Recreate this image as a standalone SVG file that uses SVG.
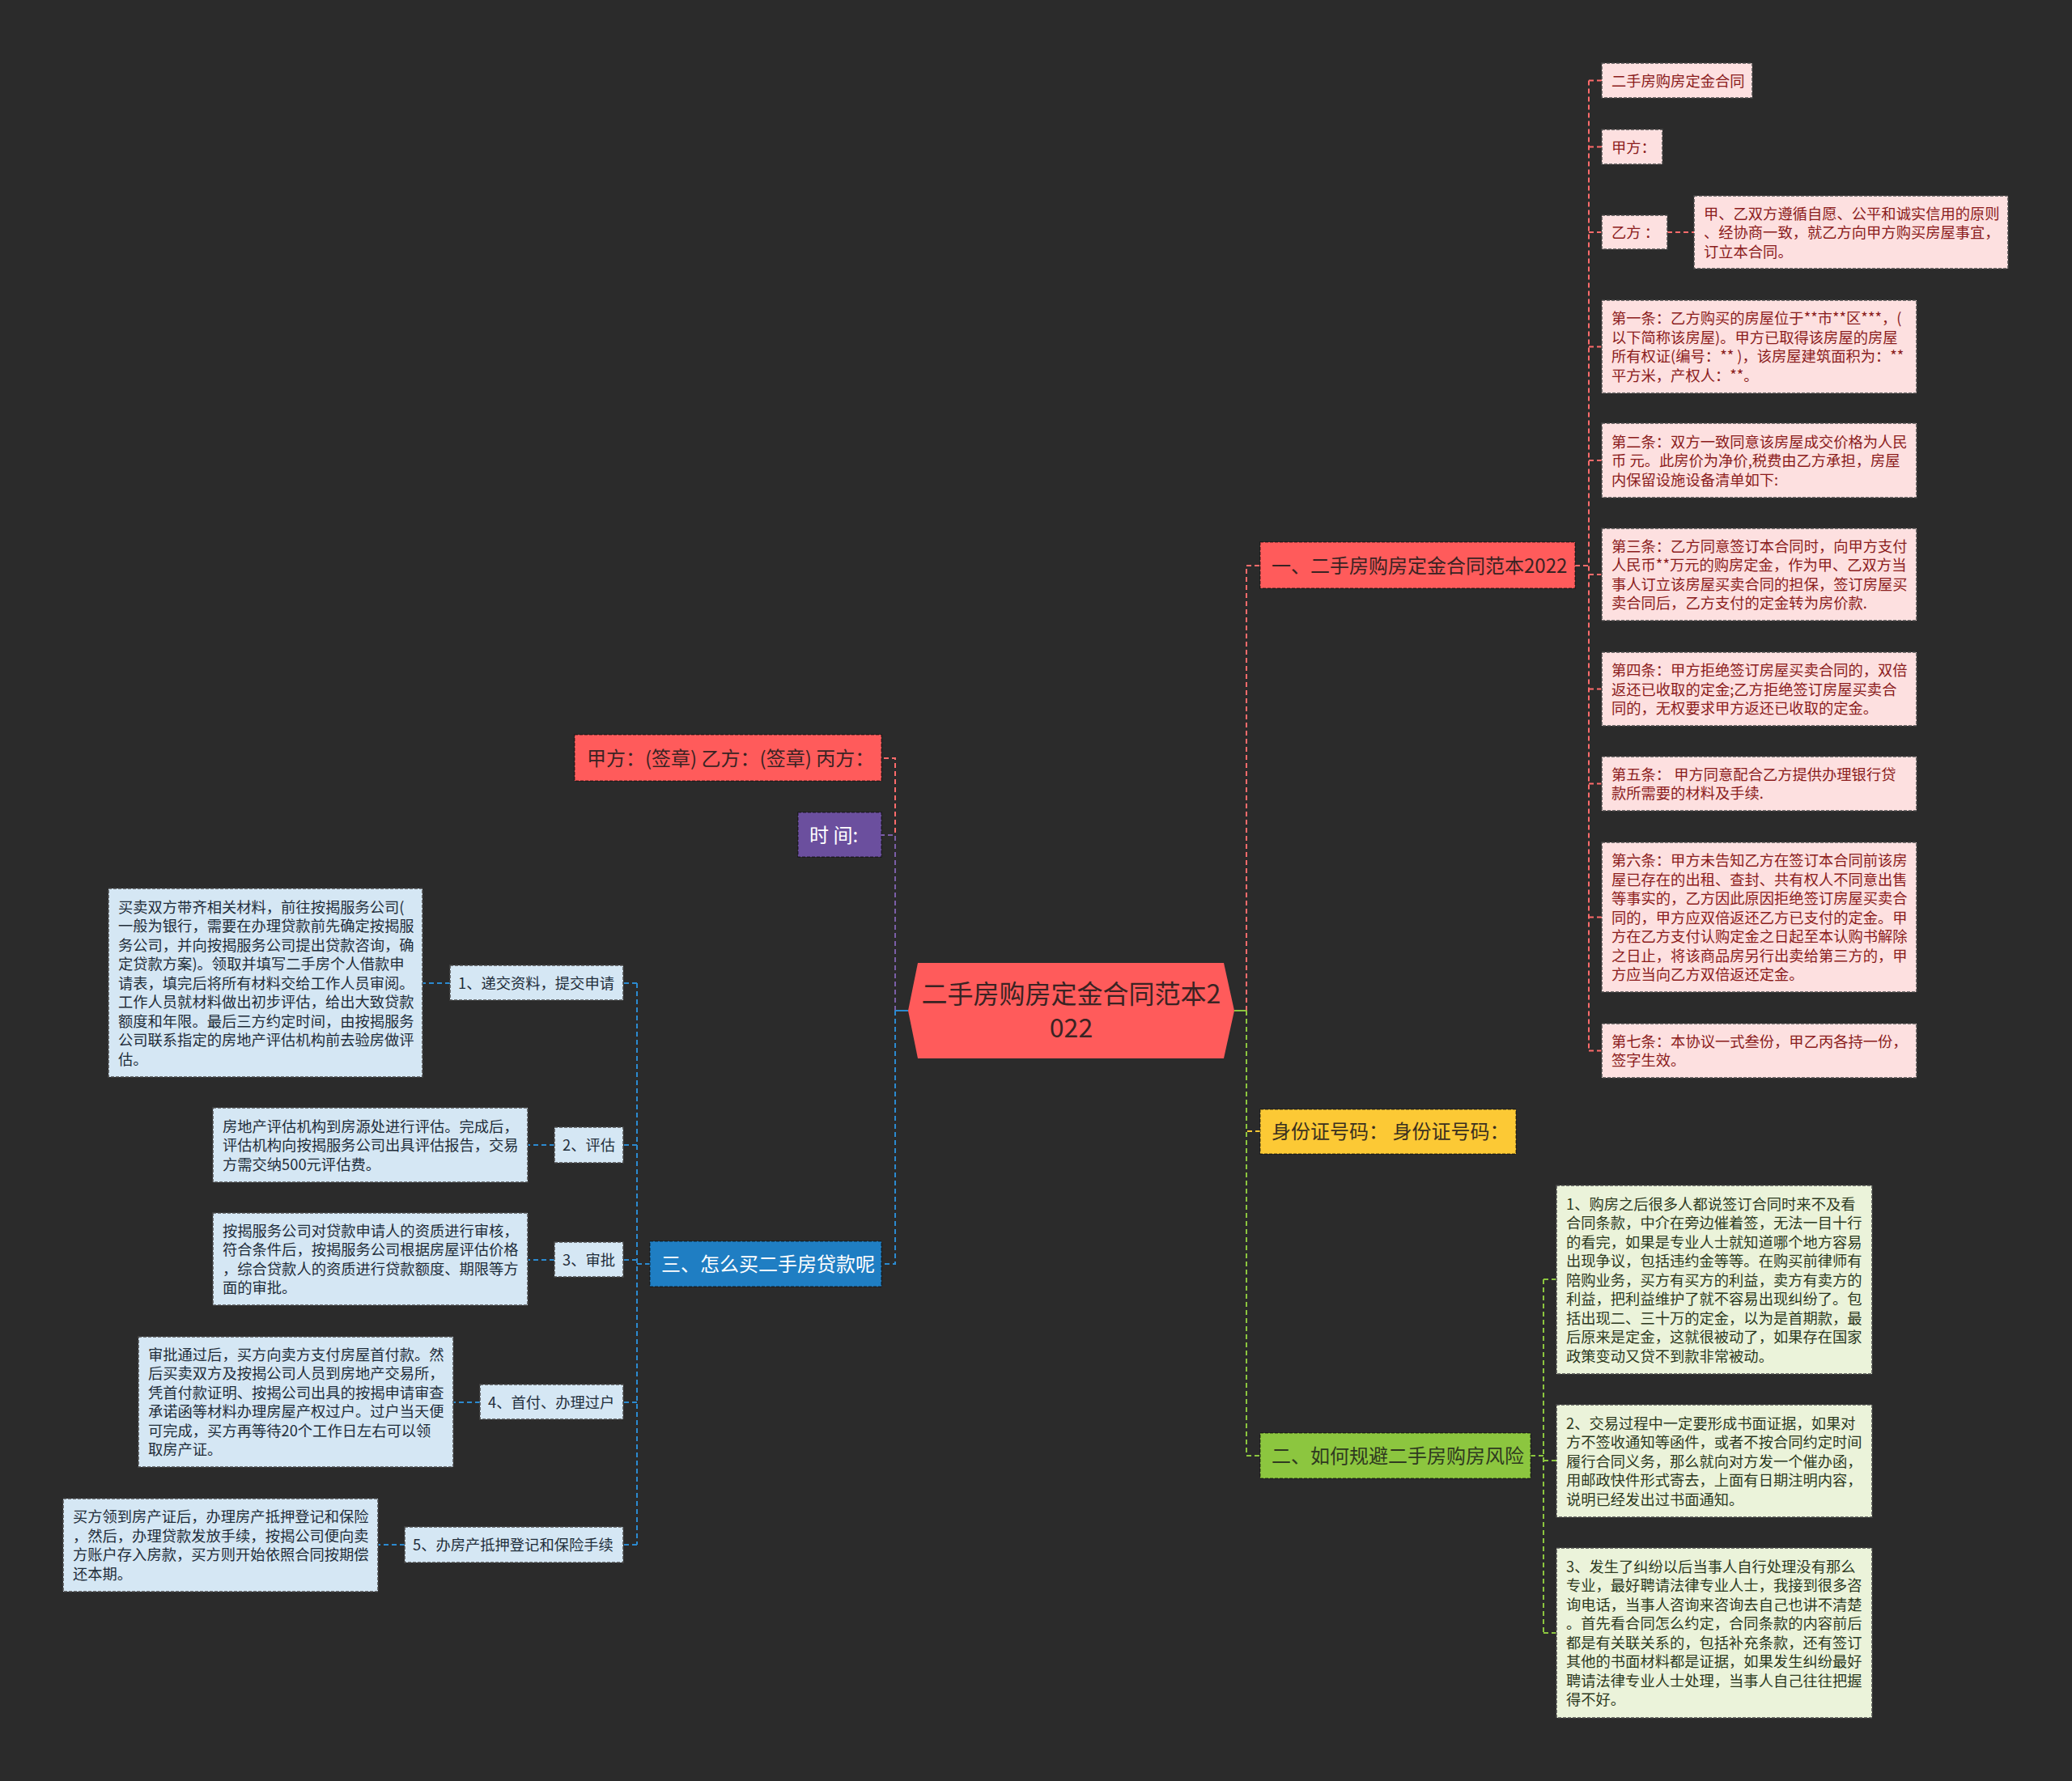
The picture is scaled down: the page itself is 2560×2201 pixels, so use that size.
<svg xmlns="http://www.w3.org/2000/svg" width="2560" height="2201" viewBox="0 0 2560 2201">
<style>
text{font-family:"Noto Sans CJK SC","Noto Sans",sans-serif}
.bd{stroke:#4a4a4a;stroke-width:1.5;stroke-dasharray:4 2}
.bd2{stroke:rgba(0,0,0,0.45);stroke-width:1.5;stroke-dasharray:4 2}
.pk rect{fill:#fde0e0}
.pk text{fill:#8b1c1c;font-size:18.3px}
.bl rect{fill:#d5e7f4}
.bl text{fill:#1f2d3a;font-size:18.3px}
.gr rect{fill:#ebf3da}
.gr text{fill:#2d3a1f;font-size:18.3px}
.l1 text{font-size:24px}
.c{fill:none;stroke-width:2;stroke-dasharray:6 4}
.cr{stroke:#ff6b6b}.cb{stroke:#2b8ad0}.cg{stroke:#8cc63f}.cp{stroke:#7b5ea7}.cy{stroke:#fcc935}
</style>
<rect x="0" y="0" width="2560" height="2201" fill="#2b2b2b"/>

<g id="connectors">
  <!-- left main -->
  <path class="c cr" d="M1106,1249 V937 H1089"/>
  <path class="c cp" d="M1106,1249 V1032 H1089"/>
  <path class="c cb" d="M1106,1249 V1562 H1089"/>
  <path d="M1122,1249 H1106" stroke="#2b8ad0" stroke-width="2" fill="none"/>
  <!-- right main -->
  <path class="c cr" d="M1540,1249 V699 H1557"/>
  <path class="c cy" d="M1540,1249 V1398 H1557"/>
  <path class="c cg" d="M1540,1249 V1799 H1557"/>
  <path d="M1525,1249 H1540" stroke="#8cc63f" stroke-width="2" fill="none"/>
  <!-- red branch children -->
  <path class="c cr" d="M1946,699 H1963"/>
  <path class="c cr" d="M1963,99.5 V1298.5"/>
  <path class="c cr" d="M1963,99.5 H1979 M1963,181.5 H1979 M1963,287 H1979 M1963,428.5 H1979 M1963,569 H1979 M1963,710 H1979 M1963,851.5 H1979 M1963,968.5 H1979 M1963,1133.5 H1979 M1963,1298.5 H1979"/>
  <path class="c cr" d="M2060,287 H2093"/>
  <!-- blue branch children -->
  <path class="c cb" d="M803,1562 H787"/>
  <path class="c cb" d="M787,1215 V1909"/>
  <path class="c cb" d="M787,1215 H770 M787,1415 H770 M787,1557 H770 M787,1733 H770 M787,1909 H770"/>
  <path class="c cb" d="M556,1215 H522 M685,1415 H652 M685,1557 H652 M593,1733 H560 M500,1909 H467"/>
  <!-- green branch children -->
  <path class="c cg" d="M1891,1799 H1907"/>
  <path class="c cg" d="M1907,1581 V2018"/>
  <path class="c cg" d="M1907,1581 H1923 M1907,1805 H1923 M1907,2018 H1923"/>
</g>

<g id="root">
  <polygon points="1134,1190 1512,1190 1525,1249 1512,1308 1134,1308 1122,1249" fill="#ff5b5b"/>
  <text x="1323.5" y="1240" font-size="32" fill="#3a2323" text-anchor="middle">二手房购房定金合同范本2</text>
  <text x="1323.5" y="1282" font-size="32" fill="#3a2323" text-anchor="middle">022</text>
</g>

<!-- first level -->
<g id="n-sign" class="l1">
  <rect x="710" y="908" width="379" height="57" fill="#ff5b5b" class="bd2"/>
  <text x="725" y="945.5" fill="#3a2323">甲方：(签章) 乙方：(签章) 丙方：</text>
</g>
<g id="n-time" class="l1">
  <rect x="986" y="1004" width="103" height="55" fill="#6b4f9e" class="bd2"/>
  <text x="1000" y="1040.5" fill="#ffffff">时 间:</text>
</g>
<g id="n-loan" class="l1">
  <rect x="803" y="1534" width="286" height="56" fill="#1f7ec3" class="bd2"/>
  <text x="817" y="1571" fill="#ffffff">三、怎么买二手房贷款呢</text>
</g>
<g id="n-contract" class="l1">
  <rect x="1557" y="670" width="389" height="57" fill="#ff5b5b" class="bd2"/>
  <text x="1571" y="707.5" fill="#3a2323">一、二手房购房定金合同范本2022</text>
</g>
<g id="n-id" class="l1">
  <rect x="1557" y="1371" width="316" height="55" fill="#fcc935" class="bd2"/>
  <text x="1571" y="1407" fill="#3a3020" font-size="23">身份证号码： 身份证号码：</text>
</g>
<g id="n-risk" class="l1">
  <rect x="1557" y="1771" width="334" height="56" fill="#8cc63f" class="bd2"/>
  <text x="1571" y="1808" fill="#2f3a20">二、如何规避二手房购房风险</text>
</g>

<!-- pink children -->
<g id="p1" class="pk"><rect x="1979" y="78" width="186" height="43" class="bd"/><text x="1991" y="106.5">二手房购房定金合同</text></g>
<g id="p2" class="pk"><rect x="1979" y="160" width="75" height="43" class="bd"/><text x="1991" y="188.5">甲方：</text></g>
<g id="p3" class="pk"><rect x="1979" y="266" width="81" height="42" class="bd"/><text x="1991" y="294">乙方 ：</text></g>
<g id="p3a" class="pk"><rect x="2093" y="242" width="388" height="90" class="bd"/>
  <text x="2105" y="270.5">甲、乙双方遵循自愿、公平和诚实信用的原则</text>
  <text x="2105" y="294">、经协商一致，就乙方向甲方购买房屋事宜，</text>
  <text x="2105" y="317.5">订立本合同。</text></g>
<g id="p4" class="pk"><rect x="1979" y="371" width="389" height="115" class="bd"/>
  <text x="1991" y="400">第一条：乙方购买的房屋位于**市**区***，(</text>
  <text x="1991" y="423.5">以下简称该房屋)。甲方已取得该房屋的房屋</text>
  <text x="1991" y="447">所有权证(编号：** )，该房屋建筑面积为：**</text>
  <text x="1991" y="470.5">平方米，产权人：**。</text></g>
<g id="p5" class="pk"><rect x="1979" y="523" width="389" height="92" class="bd"/>
  <text x="1991" y="552.5">第二条：双方一致同意该房屋成交价格为人民</text>
  <text x="1991" y="576">币 元。此房价为净价,税费由乙方承担，房屋</text>
  <text x="1991" y="599.5">内保留设施设备清单如下:</text></g>
<g id="p6" class="pk"><rect x="1979" y="653" width="389" height="114" class="bd"/>
  <text x="1991" y="681.75">第三条：乙方同意签订本合同时，向甲方支付</text>
  <text x="1991" y="705.25">人民币**万元的购房定金，作为甲、乙双方当</text>
  <text x="1991" y="728.75">事人订立该房屋买卖合同的担保，签订房屋买</text>
  <text x="1991" y="752.25">卖合同后，乙方支付的定金转为房价款.</text></g>
<g id="p7" class="pk"><rect x="1979" y="806" width="389" height="91" class="bd"/>
  <text x="1991" y="835">第四条：甲方拒绝签订房屋买卖合同的，双倍</text>
  <text x="1991" y="858.5">返还已收取的定金;乙方拒绝签订房屋买卖合</text>
  <text x="1991" y="882">同的，无权要求甲方返还已收取的定金。</text></g>
<g id="p8" class="pk"><rect x="1979" y="935" width="389" height="67" class="bd"/>
  <text x="1991" y="963.75">第五条： 甲方同意配合乙方提供办理银行贷</text>
  <text x="1991" y="987.25">款所需要的材料及手续.</text></g>
<g id="p9" class="pk"><rect x="1979" y="1041" width="389" height="185" class="bd"/>
  <text x="1991" y="1070">第六条：甲方未告知乙方在签订本合同前该房</text>
  <text x="1991" y="1093.5">屋已存在的出租、查封、共有权人不同意出售</text>
  <text x="1991" y="1117">等事实的，乙方因此原因拒绝签订房屋买卖合</text>
  <text x="1991" y="1140.5">同的，甲方应双倍返还乙方已支付的定金。甲</text>
  <text x="1991" y="1164">方在乙方支付认购定金之日起至本认购书解除</text>
  <text x="1991" y="1187.5">之日止，将该商品房另行出卖给第三方的，甲</text>
  <text x="1991" y="1211">方应当向乙方双倍返还定金。</text></g>
<g id="p10" class="pk"><rect x="1979" y="1265" width="389" height="67" class="bd"/>
  <text x="1991" y="1293.75">第七条：本协议一式叁份，甲乙丙各持一份，</text>
  <text x="1991" y="1317.25">签字生效。</text></g>

<!-- blue children -->
<g id="b1" class="bl"><rect x="556" y="1193" width="214" height="43" class="bd"/><text x="566" y="1221.5">1、递交资料，提交申请</text></g>
<g id="b1d" class="bl"><rect x="134" y="1098" width="388" height="233" class="bd"/>
  <text x="146" y="1127.5">买卖双方带齐相关材料，前往按揭服务公司(</text>
  <text x="146" y="1151">一般为银行，需要在办理贷款前先确定按揭服</text>
  <text x="146" y="1174.5">务公司，并向按揭服务公司提出贷款咨询，确</text>
  <text x="146" y="1198">定贷款方案)。领取并填写二手房个人借款申</text>
  <text x="146" y="1221.5">请表，填完后将所有材料交给工作人员审阅。</text>
  <text x="146" y="1245">工作人员就材料做出初步评估，给出大致贷款</text>
  <text x="146" y="1268.5">额度和年限。最后三方约定时间，由按揭服务</text>
  <text x="146" y="1292">公司联系指定的房地产评估机构前去验房做评</text>
  <text x="146" y="1315.5">估。</text></g>
<g id="b2" class="bl"><rect x="685" y="1393" width="85" height="44" class="bd"/><text x="695" y="1422">2、评估</text></g>
<g id="b2d" class="bl"><rect x="263" y="1369" width="389" height="92" class="bd"/>
  <text x="275" y="1398.5">房地产评估机构到房源处进行评估。完成后，</text>
  <text x="275" y="1422">评估机构向按揭服务公司出具评估报告，交易</text>
  <text x="275" y="1445.5">方需交纳500元评估费。</text></g>
<g id="b3" class="bl"><rect x="685" y="1535" width="85" height="43" class="bd"/><text x="695" y="1563.5">3、审批</text></g>
<g id="b3d" class="bl"><rect x="263" y="1499" width="389" height="114" class="bd"/>
  <text x="275" y="1527.75">按揭服务公司对贷款申请人的资质进行审核，</text>
  <text x="275" y="1551.25">符合条件后，按揭服务公司根据房屋评估价格</text>
  <text x="275" y="1574.75">，综合贷款人的资质进行贷款额度、期限等方</text>
  <text x="275" y="1598.25">面的审批。</text></g>
<g id="b4" class="bl"><rect x="593" y="1711" width="177" height="43" class="bd"/><text x="603" y="1739.5">4、首付、办理过户</text></g>
<g id="b4d" class="bl"><rect x="171" y="1652" width="389" height="161" class="bd"/>
  <text x="183" y="1680.75">审批通过后，买方向卖方支付房屋首付款。然</text>
  <text x="183" y="1704.25">后买卖双方及按揭公司人员到房地产交易所，</text>
  <text x="183" y="1727.75">凭首付款证明、按揭公司出具的按揭申请审查</text>
  <text x="183" y="1751.25">承诺函等材料办理房屋产权过户。过户当天便</text>
  <text x="183" y="1774.75">可完成，买方再等待20个工作日左右可以领</text>
  <text x="183" y="1798.25">取房产证。</text></g>
<g id="b5" class="bl"><rect x="500" y="1887" width="270" height="44" class="bd"/><text x="510" y="1916">5、办房产抵押登记和保险手续</text></g>
<g id="b5d" class="bl"><rect x="78" y="1852" width="389" height="115" class="bd"/>
  <text x="90" y="1881.25">买方领到房产证后，办理房产抵押登记和保险</text>
  <text x="90" y="1904.75">，然后，办理贷款发放手续，按揭公司便向卖</text>
  <text x="90" y="1928.25">方账户存入房款，买方则开始依照合同按期偿</text>
  <text x="90" y="1951.75">还本期。</text></g>

<!-- green children -->
<g id="g1" class="gr"><rect x="1923" y="1465" width="390" height="233" class="bd"/>
  <text x="1935" y="1494.5">1、购房之后很多人都说签订合同时来不及看</text>
  <text x="1935" y="1518">合同条款，中介在旁边催着签，无法一目十行</text>
  <text x="1935" y="1541.5">的看完，如果是专业人士就知道哪个地方容易</text>
  <text x="1935" y="1565">出现争议，包括违约金等等。在购买前律师有</text>
  <text x="1935" y="1588.5">陪购业务，买方有买方的利益，卖方有卖方的</text>
  <text x="1935" y="1612">利益，把利益维护了就不容易出现纠纷了。包</text>
  <text x="1935" y="1635.5">括出现二、三十万的定金，以为是首期款，最</text>
  <text x="1935" y="1659">后原来是定金，这就很被动了，如果存在国家</text>
  <text x="1935" y="1682.5">政策变动又贷不到款非常被动。</text></g>
<g id="g2" class="gr"><rect x="1923" y="1736" width="390" height="139" class="bd"/>
  <text x="1935" y="1765.5">2、交易过程中一定要形成书面证据，如果对</text>
  <text x="1935" y="1789">方不签收通知等函件，或者不按合同约定时间</text>
  <text x="1935" y="1812.5">履行合同义务，那么就向对方发一个催办函，</text>
  <text x="1935" y="1836">用邮政快件形式寄去，上面有日期注明内容，</text>
  <text x="1935" y="1859.5">说明已经发出过书面通知。</text></g>
<g id="g3" class="gr"><rect x="1923" y="1913" width="390" height="210" class="bd"/>
  <text x="1935" y="1942.75">3、发生了纠纷以后当事人自行处理没有那么</text>
  <text x="1935" y="1966.25">专业，最好聘请法律专业人士，我接到很多咨</text>
  <text x="1935" y="1989.75">询电话，当事人咨询来咨询去自己也讲不清楚</text>
  <text x="1935" y="2013.25">。首先看合同怎么约定，合同条款的内容前后</text>
  <text x="1935" y="2036.75">都是有关联关系的，包括补充条款，还有签订</text>
  <text x="1935" y="2060.25">其他的书面材料都是证据，如果发生纠纷最好</text>
  <text x="1935" y="2083.75">聘请法律专业人士处理，当事人自己往往把握</text>
  <text x="1935" y="2107.25">得不好。</text></g>
</svg>
